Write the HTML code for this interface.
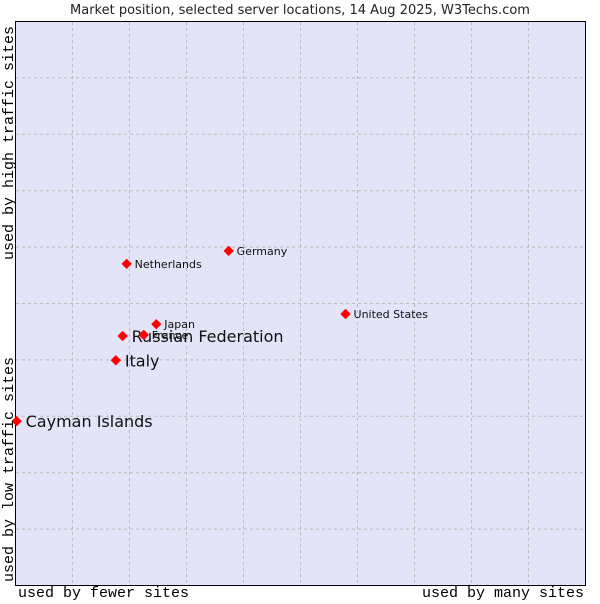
<!DOCTYPE html>
<html><head><meta charset="utf-8"><style>
body{margin:0;background:#fff;width:600px;height:600px;overflow:hidden;font-family:"DejaVu Sans","Liberation Sans",sans-serif}
</style></head><body>
<svg width="600" height="600">
<text x="300" y="14" text-anchor="middle" font-size="13" fill="#222">Market position, selected server locations, 14 Aug 2025, W3Techs.com</text>
<rect x="15.5" y="21.5" width="570" height="564" fill="#e3e4f7" stroke="#000" stroke-width="1"/>
<g id="grid"></g>
<g id="pts"></g>
<text x="18" y="597" font-family="Liberation Mono,monospace" font-size="15" fill="#000">used by fewer sites</text>
<text x="584" y="597" text-anchor="end" font-family="Liberation Mono,monospace" font-size="15" fill="#000">used by many sites</text>
<text transform="translate(13,582) rotate(-90)" font-family="Liberation Mono,monospace" font-size="15" fill="#000">used by low traffic sites</text>
<text transform="translate(13,260) rotate(-90)" font-family="Liberation Mono,monospace" font-size="15" fill="#000">used by high traffic sites</text>
</svg>
<script>
const names=["Cayman Islands","Italy","Russian Federation","France","Japan","Netherlands","Germany","United States"];
const xVals=[0.2,17.6,18.8,22.5,24.7,19.5,37.4,57.9];
const yVals=[29.4,40.2,44.5,44.7,46.6,57.3,59.6,48.4];
const big=[true,true,true,false,false,false,false,false];
const ns="http://www.w3.org/2000/svg";
const X=v=>15.5+v*5.7, Y=v=>587-v*5.64;
const grid=document.getElementById('grid');
for(let i=1;i<10;i++){
 let l=document.createElementNS(ns,'line');
 l.setAttribute('x1',15.5+i*57);l.setAttribute('x2',15.5+i*57);l.setAttribute('y1',22);l.setAttribute('y2',585);
 l.setAttribute('stroke','#bbb');l.setAttribute('stroke-dasharray','3,3');
 
 
 grid.appendChild(l);
 let h=document.createElementNS(ns,'line');
 h.setAttribute('y1',585.5-i*56.4);h.setAttribute('y2',585.5-i*56.4);h.setAttribute('x1',16);h.setAttribute('x2',585);
 h.setAttribute('stroke','#bbb');h.setAttribute('stroke-dasharray','3,3');
 
 
 grid.appendChild(h);
}
const pts=document.getElementById('pts');
names.forEach((n,i)=>{
 const cx=X(xVals[i]),cy=Y(yVals[i]);
 const g=document.createElementNS(ns,'g');
 
 
 const p=document.createElementNS(ns,'polygon');
 p.setAttribute('points',`${cx-4.5},${cy} ${cx},${cy-4.5} ${cx+4.5},${cy} ${cx},${cy+4.5}`);
 p.setAttribute('fill','#f00');p.setAttribute('stroke','#f00');p.setAttribute('stroke-linejoin','round');
 g.appendChild(p);
 const t=document.createElementNS(ns,'text');
 t.setAttribute('x',cx+(big[i]?9:8));t.setAttribute('y',cy+(big[i]?6:4));
 t.setAttribute('font-size',big[i]?16:11);t.setAttribute('fill','#111');
 t.textContent=n;
 g.appendChild(t);
 pts.appendChild(g);
});
</script>
</body></html>
